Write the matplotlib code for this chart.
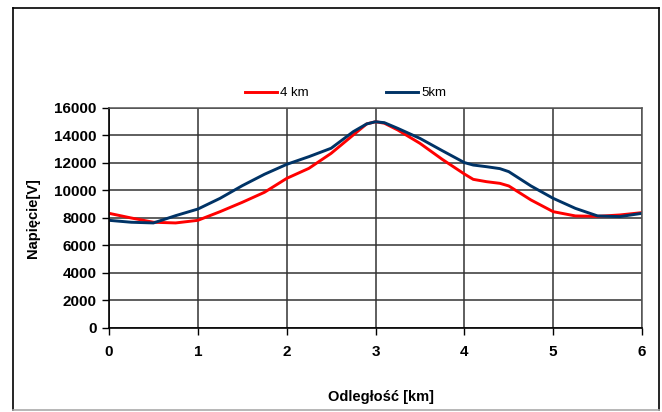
import matplotlib
matplotlib.use("Agg")
import matplotlib.pyplot as plt
from matplotlib.lines import Line2D

# Data
distance_km = [0, 0.25, 0.5, 0.75, 1, 1.25, 1.5, 1.75, 2, 2.25, 2.5, 2.75, 2.9,
               3, 3.1, 3.25, 3.5, 3.75, 4, 4.1, 4.25, 4.4, 4.5, 4.75, 5, 5.25,
               5.5, 5.75, 6]
voltage_4km = [8340, 8000, 7690, 7640, 7830, 8460, 9140, 9870, 10880, 11610,
               12700, 14040, 14840, 15000, 14890, 14400, 13430, 12270, 11200,
               10810, 10640, 10520, 10330, 9310, 8460, 8150, 8120, 8220, 8390]
voltage_5km = [7830, 7690, 7640, 8170, 8650, 9430, 10350, 11180, 11900, 12460,
               13070, 14280, 14840, 15000, 14930, 14520, 13790, 12900, 12030,
               11850, 11730, 11590, 11370, 10330, 9430, 8700, 8150, 8100, 8340]
x_ticks = [0, 1, 2, 3, 4, 5, 6]
y_ticks = list(range(0, 16001, 2000))

plt.rcParams["font.family"] = ["Liberation Sans", "DejaVu Sans"]

fig = plt.figure(figsize=(6.62, 4.12), dpi=100)
ax = fig.add_axes([0.1647, 0.2039, 0.8051, 0.534])

# outer frame of the chart (pixels -> figure fraction)
W, H = 662.0, 412.0
L, R, T, B = 12.5, 659, 7.5, 409.5
for (x0, y0, x1, y1, c) in [(L, T, R, T, "black"), (L, T, L, B, "black"),
                            (R, T, R, B, "black"), (L, B, R, B, "#aaaaaa")]:
    fig.lines.append(Line2D([x0 / W, x1 / W], [1 - y0 / H, 1 - y1 / H],
                            transform=fig.transFigure, color=c, linewidth=1.2))

ax.plot(distance_km, voltage_4km, color="#ff0000", linewidth=2.1, label="4 km")
ax.plot(distance_km, voltage_5km, color="#003366", linewidth=2.1, label="5km")

ax.set_xlim(0, 6)
ax.set_ylim(0, 16000)
ax.set_xticks(x_ticks)
ax.set_yticks(y_ticks)
ax.grid(True, color="#333333", linewidth=1.1)
ax.set_axisbelow(True)

for side in ["top", "right"]:
    ax.spines[side].set_color("#555555")
    ax.spines[side].set_linewidth(1.1)
for side in ["left", "bottom"]:
    ax.spines[side].set_color("black")
    ax.spines[side].set_linewidth(1.2)

ax.tick_params(axis="both", direction="out", length=5, width=1, colors="black")
ax.tick_params(axis="x", pad=7)
ax.tick_params(axis="y", pad=4)
for lbl in ax.get_xticklabels() + ax.get_yticklabels():
    lbl.set_fontweight("bold")
    lbl.set_fontsize(11)

ax.set_xlabel("Odległość [km]", fontsize=10.5, fontweight="bold")
ax.xaxis.set_label_coords(0.51, -0.284)
ax.set_ylabel("Napięcie[V]", fontsize=10.5, fontweight="bold", labelpad=10)

ax.legend(loc="center", bbox_to_anchor=(0.444, 1.068), ncol=2, frameon=False,
          fontsize=9.5, handlelength=2.4, columnspacing=5.9, handletextpad=0.25)

fig.savefig("out.png", dpi=100)
